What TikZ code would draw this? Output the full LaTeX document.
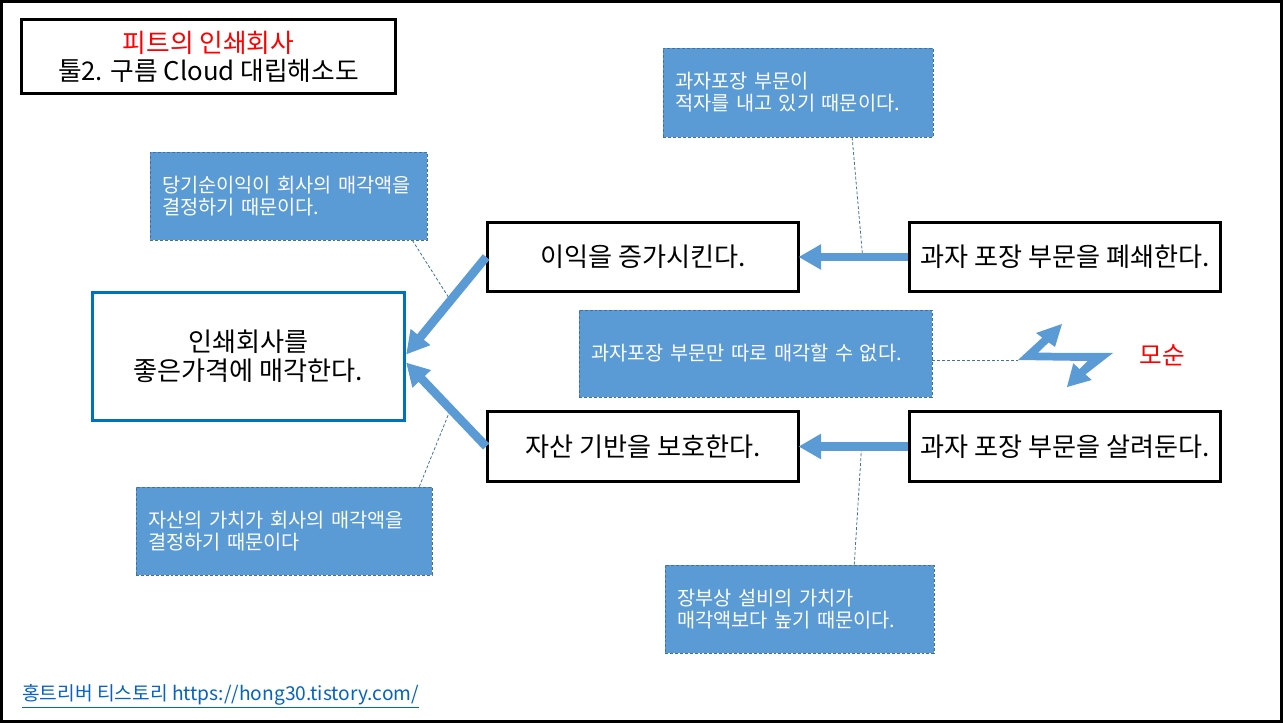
\documentclass[tikz,border=0pt]{standalone}
\usepackage{fontspec}
\setmainfont{Noto Sans CJK KR}
\usetikzlibrary{calc,arrows.meta}
\definecolor{notefill}{HTML}{5B9BD5}
\definecolor{notedraw}{HTML}{41719C}
\definecolor{boxblue}{HTML}{0070C0}
\definecolor{linkblue}{HTML}{0563C1}
\tikzset{
  bigbox/.style={draw=black, line width=2.25pt, inner sep=0pt, minimum width=233pt, minimum height=52pt, align=center, font=\fontsize{19.6}{21.75}\selectfont},
  note/.style={fill=notefill, draw=notedraw, dashed, line width=0.6pt, dash pattern=on 2.2pt off 1.5pt, inner xsep=9pt, inner ysep=0pt, align=left, text=white, font=\fontsize{14.8}{16.5}\selectfont},
  bigarrow/.style={draw=notefill, line width=6.5pt, -{Triangle[length=17pt,width=18pt]}, shorten >=-1pt},
  leader/.style={draw=notedraw, line width=0.6pt, dash pattern=on 2.2pt off 1.5pt},
}
\begin{document}
\begin{tikzpicture}[x=0.75pt,y=-0.75pt]
\useasboundingbox (0,0) rectangle (1283,723);
\draw[line width=2.25pt] (1.5,1.5) rectangle (1281.5,721.5);

% title
\node[draw=black, line width=2.25pt, minimum width=280.5pt, minimum height=55.5pt, inner sep=0pt, align=center, font=\fontsize{19.3}{21}\selectfont] (title) at (208.5,56.5) {\textcolor{red}{피트의 인쇄회사}\\툴2. 구름 Cloud 대립해소도};

% main boxes
\node[bigbox, draw=boxblue, minimum width=234pt, minimum height=96pt] (A) at (248.5,356.5) {인쇄회사를\\좋은가격에 매각한다.};
\node[bigbox] (B) at (643,257) {이익을 증가시킨다.};
\node[bigbox] (C) at (643,446.5) {자산 기반을 보호한다.};
\node[bigbox] (D) at (1065,257) {과자 포장 부문을 폐쇄한다.};
\node[bigbox] (E) at (1065,446.5) {과자 포장 부문을 살려둔다.};

% notes
\node[note, text width=189.75pt, minimum height=66pt] (N1) at (288.5,196) {당기순이익이 회사의 매각액을\\결정하기 때문이다.};
\node[note, text width=204pt, minimum height=66pt] (N2) at (284,531) {자산의 가치가 회사의 매각액을\\결정하기 때문이다};
\node[note, text width=184.5pt, minimum height=66.75pt] (N3) at (798,92.5) {과자포장 부문이\\적자를 내고 있기 때문이다.};
\node[note, text width=246.75pt, minimum height=65.25pt] (N4) at (755.5,353.5) {과자포장 부문만 따로 매각할 수 없다.};
\node[note, text width=183.75pt, minimum height=66pt] (N5) at (799.5,609) {장부상 설비의 가치가\\매각액보다 높기 때문이다.};

% arrow endpoints
\coordinate (tipA1) at ($(A.east)+(1,-3)$);
\coordinate (tipA2) at ($(A.east)+(1,7)$);
\coordinate (bolt) at (1018,360);

% leaders
\draw[leader] ($(N1.south west)!0.946!(N1.south east)$) -- ($(B.west)!0.45!(tipA1)$);
\draw[leader] ($(N2.north west)!0.956!(N2.north east)$) -- ($(C.west)!0.45!(tipA2)$);
\draw[leader] ($(N3.south west)!0.7!(N3.south east)$) -- ($(D.west)!0.42!(B.east)$);
\draw[leader] ($(N5.north west)!0.703!(N5.north east)$) -- ($(E.west)!0.43!(C.east)$);
\draw[leader] (bolt -| N4.east) -- (bolt);

% arrows
\draw[bigarrow] (B.west) -- (tipA1);
\draw[bigarrow] (C.west) -- (tipA2);
\draw[bigarrow] (D.west) -- (B.east);
\draw[bigarrow] (E.west) -- (C.east);

% contradiction bolt
\fill[notefill] (bolt) -- (1042.3,337.6) -- (1036,333) -- (1062,324) -- (1055,347) -- (1048.7,342.4) -- (1038,352.7) -- (1113,353) -- (1085.5,374.4) -- (1091.7,380) -- (1067,387) -- (1073.3,363.3) -- (1079.5,369) -- (1087.6,361) -- cycle;
\node[text=red, font=\fontsize{18.5}{20}\selectfont] (moson) at (1162,355) {모순};

% footer
\node[anchor=west, text=linkblue, font=\fontsize{14.4}{16}\selectfont, inner sep=0pt] (foot) at (22,696) {\underline{홍트리버 티스토리 https://hong30.tistory.com/}};
\end{tikzpicture}
\end{document}
